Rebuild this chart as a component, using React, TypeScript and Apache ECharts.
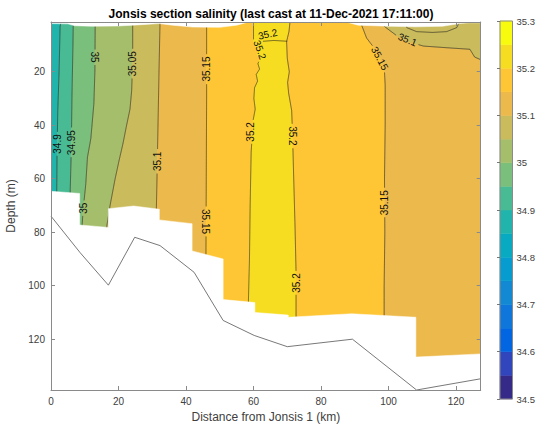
import React, { useEffect, useRef } from 'react';
import * as echarts from 'echarts';

const FONT = '"Liberation Sans", Arial, Helvetica, sans-serif';
const AXIS_COLOR = '#8a8a8a';
const TEXT_COLOR = '#404040';

const titleText = 'Jonsis section salinity (last cast at 11-Dec-2021 17:11:00)';
const xName = 'Distance from Jonsis 1 (km)';
const yName = 'Depth (m)';

const xRange = [0, 127.3];
const yRange = [1.4, 139];
const tickStep = 20;
const cbarRange = [34.5, 35.3];
const cbarStep = 0.1;
const levelBase = 34.5;
const levelStep = 0.05;
// parula(16)
const levelColors = [
  '#352A87', '#3145BC', '#0265E1', '#0F77DB', '#1388D3', '#079CCF', '#07AAC1', '#20B4AD',
  '#49BB94', '#7ABF7C', '#A5BE6B', '#CABB5C', '#ECB94C', '#FEC634', '#F6DD22', '#F9FB0E',
];

// contour lines, [distance km, depth m], top -> bottom
const leftEdge = [[0, 0], [0, 140]];
const rightEdge = [[127.3, 0], [127.3, 140]];
const iso3490 = [[3.0, 0], [2.7, 3], [2.4, 20], [2.0, 35], [1.8, 50], [1.7, 64], [1.7, 140]];
const iso3495 = [[6.6, 0], [6.5, 10], [6.2, 30], [6.0, 50], [5.7, 64], [5.6, 140]];
const iso3500 = [[13.1, 0], [13.0, 20], [12.7, 32], [11.8, 45], [10.8, 52], [10.3, 62], [9.5, 72], [9.2, 78], [9.2, 140]];
const iso3505 = [[24.2, 0], [24.2, 15], [23.9, 27], [23.4, 34], [22.4, 40], [21.3, 47], [20.2, 53], [19.0, 60], [17.5, 70], [16.5, 78], [16.5, 140]];
const iso3510 = [[32.3, 0], [32.0, 20], [31.7, 40], [31.4, 60], [31.2, 72], [31.2, 140]];
const iso3515a = [[46.1, 0], [46.1, 30], [46.0, 60], [45.9, 90], [45.9, 140]];
const iso3520a = [[60.0, 0], [60.0, 8.7], [60.6, 10.5], [61.5, 11.5], [61.0, 13.5], [62.0, 15], [61.3, 17], [61.8, 19], [60.8, 21], [61.2, 23.5], [60.3, 26], [60.1, 30], [60.5, 34], [59.9, 38], [59.3, 50], [59.0, 70], [58.8, 90], [58.5, 105], [58.5, 140]];
const iso3520b = [[70.8, 0], [70.5, 5], [69.8, 8.7], [70.0, 15], [70.6, 20], [70.1, 24], [70.4, 28], [71.3, 34.5], [71.6, 45], [71.8, 55], [72.3, 78], [72.6, 95], [72.6, 140]];
const iso3515b = [[91.5, 0], [92.0, 2.5], [93.5, 7.4], [95.5, 10.7], [97.5, 15], [98.8, 20], [99.0, 25], [99.0, 40], [98.8, 60], [98.9, 80], [98.7, 100], [98.7, 140]];
const iso3510c = [[98.0, 0], [98.5, 2.8], [102.4, 6.5], [106, 8.8], [110.3, 10.4], [117, 11.0], [124.1, 11.6], [125.5, 14.5], [127.3, 15.5]];
const iso3505c = [[105.0, 0], [105.4, 3.5], [108.3, 5.0], [113, 5.3], [117.2, 5.0], [120.2, 3.5], [121, 0]];
const iso3520top = [[60.2, 9.0], [63, 8.6], [66, 8.3], [70.0, 8.6]];

// filled bands: [lower level, left boundary, right boundary]
const fillBands: [number, number[][], number[][]][] = [
  [34.85, leftEdge, iso3490],
  [34.9, iso3490, iso3495],
  [34.95, iso3495, iso3500],
  [35.0, iso3500, iso3505],
  [35.05, iso3505, iso3510],
  [35.1, iso3510, iso3515a],
  [35.15, iso3515a, iso3520a],
  [35.2, iso3520a, iso3520b],
  [35.15, iso3520b, iso3515b],
  [35.1, iso3515b, rightEdge],
];
// patch in the top right: [lower level, outline]
const fillPatches: [number, number[][]][] = [
  [35.05, iso3510c.concat([[127.3, 0]])],
];

const contourLines = [iso3490, iso3495, iso3500, iso3505, iso3510, iso3515a, iso3520a, iso3520b, iso3515b, iso3510c, iso3505c, iso3520top];

// labels: [value, km, depth, rotation deg]
const contourLabels: [number, number, number, number][] = [
  [34.9, 1.9, 47, 90],
  [34.95, 6.1, 46.5, 90],
  [35, 13.0, 14.5, -90],
  [35, 9.5, 71, 90],
  [35.05, 24.1, 17, 90],
  [35.1, 31.5, 53.5, 90],
  [35.15, 46.1, 19, 90],
  [35.15, 45.9, 76, -90],
  [35.2, 59.2, 42.5, 90],
  [35.2, 71.6, 44, -90],
  [35.2, 72.7, 99, 90],
  [35.15, 98.9, 69, 90],
  [35.15, 97.4, 15, -62],
  [35.1, 105.6, 8.0, -22],
  [35.2, 64.2, 6.0, 12],
  [35.2, 61.9, 11.8, -70],
];

// white (no data) regions
const dataTop = [[0, 2.0], [5, 2.1], [7, 2.8], [12, 3.0], [20, 2.9], [27, 2.4], [32, 2.0], [36, 2.6], [42, 3.3], [50, 3.4], [55, 2.6], [58, 1.6], [88, 1.6], [91, 2.6], [100, 3.0], [108, 3.2], [116, 3.0], [121, 2.0], [124, 1.7], [127.3, 1.7]];
const dataBottom = [[0, 64.7], [8.5, 65.5], [8.5, 77.3], [17, 78.2], [17, 71.2], [24.5, 70.2], [32.1, 71.4], [32.1, 75.4], [41.8, 76.8], [41.8, 87], [51, 90], [51, 105.2], [60.4, 106.3], [60.4, 110], [70.3, 111], [70.3, 111.8], [89.1, 110.5], [108.1, 111.8], [108.1, 126.7], [127.3, 125.5]];

// bathymetry
const bottomDistance = [0, 8.6, 17, 24.8, 32.3, 42.4, 51, 60.2, 70, 89.3, 108.3, 127.3];
const bottomDepth = [74, 87.6, 99.8, 81.9, 85, 95, 113, 118.6, 122.8, 120, 139, 134.8];

const colorFor = (v: number) => levelColors[Math.max(0, Math.min(15, Math.round((v - levelBase) / levelStep)))];
const clampPt = (p: number[]) => [
  Math.min(Math.max(p[0], xRange[0]), xRange[1]),
  Math.min(Math.max(p[1], yRange[0]), yRange[1]),
];
const fmtLevel = (v: number) => String(+v.toFixed(2));
const LABEL_FONT = 10;
const textWidth = (s: string) => {
  let w = 0;
  for (const ch of s) w += ch === '.' ? 0.278 : 0.556;
  return w * LABEL_FONT;
};

function splitByBoxes(pts: number[][], boxes: any[]): number[][][] {
  const runs: number[][][] = [];
  let cur: number[][] = [];
  for (let i = 0; i < pts.length - 1; i++) {
    const [x0, y0] = pts[i];
    const [x1, y1] = pts[i + 1];
    const len = Math.hypot(x1 - x0, y1 - y0);
    const n = Math.max(1, Math.ceil(len / 0.75));
    for (let k = i === 0 ? 0 : 1; k <= n; k++) {
      const t = k / n;
      const x = x0 + (x1 - x0) * t;
      const y = y0 + (y1 - y0) * t;
      const hidden = boxes.some((b) => {
        const dx = x - b.cx;
        const dy = y - b.cy;
        const u = dx * b.c - dy * b.s;
        const v = dx * b.s + dy * b.c;
        return Math.abs(u) < b.hl && Math.abs(v) < b.ht;
      });
      if (hidden) {
        if (cur.length > 1) runs.push(cur);
        cur = [];
      } else cur.push([x, y]);
    }
  }
  if (cur.length > 1) runs.push(cur);
  return runs;
}

const tickFormatter = (v: number) =>
  Math.abs(v / tickStep - Math.round(v / tickStep)) < 1e-6 ? String(Math.round(v)) : '';

export default function App() {
  const ref = useRef<HTMLDivElement>(null);
  useEffect(() => {
    if (!ref.current) return;
    const chart = echarts.init(ref.current, undefined, { renderer: 'svg' });

    const mainAxisCommon = {
      type: 'value' as const,
      gridIndex: 0,
      z: 10,
      minInterval: tickStep,
      maxInterval: tickStep,
      splitLine: { show: false },
      axisLine: { show: true, onZero: false, lineStyle: { color: AXIS_COLOR, width: 1 } },
      axisTick: { show: true, inside: true, length: 4, lineStyle: { color: AXIS_COLOR, width: 1 } },
    };

    const option: any = {
      animation: false,
      backgroundColor: '#ffffff',
      textStyle: { fontFamily: FONT },
      title: {
        text: titleText,
        left: 266,
        top: 3,
        textAlign: 'center',
        textStyle: { fontSize: 12, fontWeight: 'bold', color: '#000', fontFamily: FONT },
      },
      grid: [
        { left: 51, top: 22, width: 429.7, height: 368, outerBoundsMode: 'none', containLabel: false },
        { left: 500, top: 21, width: 12.5, height: 378, outerBoundsMode: 'none', containLabel: false },
      ],
      xAxis: [
        {
          ...mainAxisCommon,
          min: xRange[0],
          max: xRange[1],
          position: 'bottom',
          axisLabel: { formatter: tickFormatter, color: TEXT_COLOR, fontSize: 10, fontFamily: FONT, margin: 6 },
          name: xName,
          nameLocation: 'middle',
          nameGap: 16,
          nameTextStyle: { color: TEXT_COLOR, fontSize: 12, fontFamily: FONT },
        },
        {
          ...mainAxisCommon,
          min: xRange[0],
          max: xRange[1],
          position: 'top',
          axisLabel: { show: false },
        },
        { type: 'value', gridIndex: 1, min: 0, max: 1, show: false },
      ],
      yAxis: [
        {
          ...mainAxisCommon,
          min: yRange[0],
          max: yRange[1],
          inverse: true,
          position: 'left',
          axisLabel: { formatter: tickFormatter, color: TEXT_COLOR, fontSize: 10, fontFamily: FONT, margin: 6 },
          name: yName,
          nameLocation: 'middle',
          nameGap: 27,
          nameTextStyle: { color: TEXT_COLOR, fontSize: 12, fontFamily: FONT },
        },
        {
          ...mainAxisCommon,
          min: yRange[0],
          max: yRange[1],
          inverse: true,
          position: 'right',
          axisLabel: { show: false },
        },
        {
          type: 'value',
          gridIndex: 1,
          min: cbarRange[0],
          max: cbarRange[1],
          interval: cbarStep,
          position: 'right',
          z: 10,
          splitLine: { show: false },
          axisLine: { show: false },
          axisTick: { show: true, inside: true, length: 3, lineStyle: { color: '#777', width: 1 } },
          axisLabel: { formatter: fmtLevel, color: TEXT_COLOR, fontSize: 9.5, fontFamily: FONT, margin: 4 },
        },
      ],
      series: [
        {
          type: 'custom',
          name: 'fills',
          coordinateSystem: 'cartesian2d',
          xAxisIndex: 0,
          yAxisIndex: 0,
          z: 1,
          clip: true,
          silent: true,
          data: fillBands.map((_, i) => [i, 10]).concat(fillPatches.map((_, i) => [fillBands.length + i, 10])),
          renderItem: (params: any, api: any) => {
            const i = params.dataIndex;
            let level: number;
            let pts: number[][];
            if (i < fillBands.length) {
              const b = fillBands[i];
              level = b[0];
              pts = b[1].concat(b[2].slice().reverse());
            } else {
              const p = fillPatches[i - fillBands.length];
              level = p[0];
              pts = p[1];
            }
            const px = pts.map((p) => api.coord(clampPt(p)));
            const col = colorFor(level);
            return { type: 'polygon', shape: { points: px }, style: { fill: col, stroke: col, lineWidth: 0.6 } };
          },
        },
        {
          type: 'custom',
          name: 'contours',
          coordinateSystem: 'cartesian2d',
          xAxisIndex: 0,
          yAxisIndex: 0,
          z: 2,
          clip: true,
          silent: true,
          data: contourLines.map((_, i) => [i, 10]),
          renderItem: (params: any, api: any) => {
            const line = contourLines[params.dataIndex];
            const px = line.map((p) => api.coord(clampPt(p)));
            const boxes = contourLabels.map((l) => {
              const c = api.coord([l[1], l[2]]);
              const th = (l[3] * Math.PI) / 180;
              return {
                cx: c[0],
                cy: c[1],
                c: Math.cos(th),
                s: Math.sin(th),
                hl: textWidth(fmtLevel(l[0])) / 2 + 2,
                ht: 5,
              };
            });
            const runs = splitByBoxes(px, boxes);
            return {
              type: 'group',
              children: runs.map((r) => ({
                type: 'polyline',
                shape: { points: r },
                style: { stroke: '#1a1a1a', lineWidth: 0.6, fill: 'none' },
              })),
            };
          },
        },
        {
          type: 'custom',
          name: 'mask',
          coordinateSystem: 'cartesian2d',
          xAxisIndex: 0,
          yAxisIndex: 0,
          z: 3,
          clip: true,
          silent: true,
          data: [[0, 10], [1, 10]],
          renderItem: (params: any, api: any) => {
            const pts =
              params.dataIndex === 0
                ? [[xRange[0], 0]].concat(dataTop).concat([[xRange[1], 0]])
                : dataBottom.concat([[xRange[1], 140], [xRange[0], 140]]);
            return {
              type: 'polygon',
              shape: { points: pts.map((p) => api.coord(clampPt(p))) },
              style: { fill: '#ffffff', stroke: '#ffffff', lineWidth: 0.5 },
            };
          },
        },
        {
          type: 'line',
          name: 'bottom',
          xAxisIndex: 0,
          yAxisIndex: 0,
          z: 4,
          symbol: 'none',
          silent: true,
          data: bottomDistance.map((d, i) => [d, bottomDepth[i]]),
          lineStyle: { color: '#555555', width: 0.8 },
        },
        {
          type: 'custom',
          name: 'labels',
          coordinateSystem: 'cartesian2d',
          xAxisIndex: 0,
          yAxisIndex: 0,
          z: 5,
          silent: true,
          data: contourLabels.map((_, i) => [i, 10]),
          renderItem: (params: any, api: any) => {
            const l = contourLabels[params.dataIndex];
            const c = api.coord([l[1], l[2]]);
            return {
              type: 'text',
              x: c[0],
              y: c[1],
              rotation: (l[3] * Math.PI) / 180,
              style: {
                text: fmtLevel(l[0]),
                fill: '#111111',
                font: `${LABEL_FONT}px ${FONT}`,
                align: 'center',
                verticalAlign: 'middle',
                textAlign: 'center',
                textVerticalAlign: 'middle',
              },
            };
          },
        },
        {
          type: 'custom',
          name: 'colorbar',
          coordinateSystem: 'cartesian2d',
          xAxisIndex: 2,
          yAxisIndex: 2,
          z: 1,
          silent: true,
          data: levelColors.map((_, i) => [0, levelBase + i * levelStep]),
          renderItem: (params: any, api: any) => {
            const i = params.dataIndex;
            const lo = levelBase + i * levelStep;
            const p0 = api.coord([0, lo + levelStep]);
            const p1 = api.coord([1, lo]);
            return {
              type: 'rect',
              shape: { x: p0[0], y: p0[1], width: p1[0] - p0[0], height: p1[1] - p0[1] },
              style: { fill: levelColors[i], stroke: levelColors[i], lineWidth: 0.5 },
            };
          },
        },
        {
          type: 'custom',
          name: 'colorbarBorder',
          coordinateSystem: 'cartesian2d',
          xAxisIndex: 2,
          yAxisIndex: 2,
          z: 6,
          silent: true,
          data: [[0, cbarRange[0]]],
          renderItem: (params: any, api: any) => {
            const p0 = api.coord([0, cbarRange[1]]);
            const p1 = api.coord([1, cbarRange[0]]);
            return {
              type: 'rect',
              shape: { x: p0[0], y: p0[1], width: p1[0] - p0[0], height: p1[1] - p0[1] },
              style: { fill: 'none', stroke: AXIS_COLOR, lineWidth: 1 },
            };
          },
        },
      ],
    };
    chart.setOption(option);
    return () => chart.dispose();
  }, []);
  return <div ref={ref} style={{ width: 541, height: 428, position: 'absolute', left: 0, top: 0 }} />;
}
